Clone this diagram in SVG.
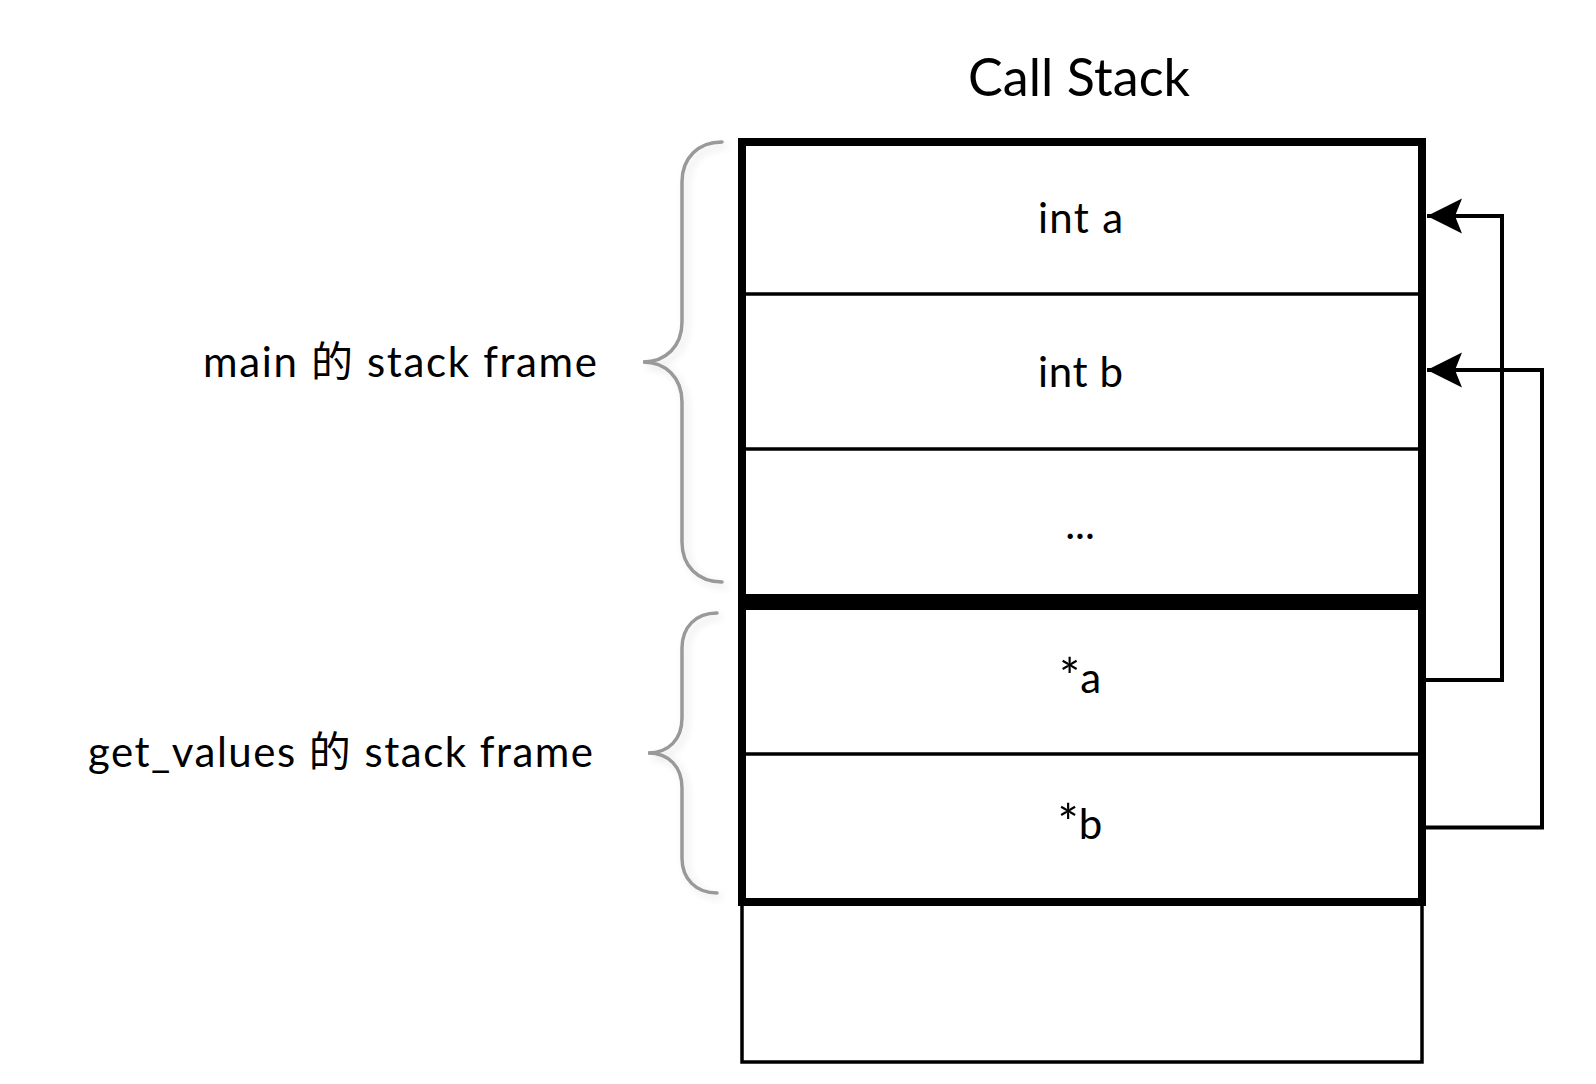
<svg xmlns="http://www.w3.org/2000/svg" width="1596" height="1084" viewBox="0 0 1596 1084">
<style>
.txt{font-family:Lato,"Noto Sans CJK SC",sans-serif;fill:#000;}
.cell{font-size:42px;text-anchor:middle;}
.lbl{font-size:42px;}
.ast{font-size:50px;}
.frame{fill:none;stroke:#000;stroke-width:8;}
.div{stroke:#000;stroke-width:3.5;}
.brace{fill:none;stroke:#999;stroke-width:3.5;stroke-linecap:round;}
.conn{fill:none;stroke:#000;stroke-width:4;}
</style>
<defs>
<marker id="arrow" markerUnits="userSpaceOnUse" markerWidth="40" markerHeight="40" viewBox="-37 -20 40 40" refX="0" refY="0" orient="auto">
<path d="M0,0 L-35,-17.5 L-28,0 L-35,17.5 Z" fill="#000"/>
</marker>
<filter id="shadow" x="-50%" y="-10%" width="200%" height="120%">
<feGaussianBlur in="SourceAlpha" stdDeviation="4"/>
<feOffset dx="4" dy="4" result="b"/>
<feComponentTransfer><feFuncA type="linear" slope="0.12"/></feComponentTransfer>
<feMerge><feMergeNode/><feMergeNode in="SourceGraphic"/></feMerge>
</filter>
</defs>
<rect width="1596" height="1084" fill="#fff"/>

<g id="title">
<text class="txt" x="1079" y="96" font-size="52" text-anchor="middle" textLength="222" lengthAdjust="spacing">Call Stack</text>
</g>

<g id="bottom-box">
<rect x="742" y="902" width="680" height="160" fill="#fff" stroke="#000" stroke-width="3.5"/>
</g>

<g id="main-frame">
<rect x="742" y="142" width="680" height="456" fill="#fff"/>
<line class="div" x1="742" y1="294" x2="1422" y2="294"/>
<line class="div" x1="742" y1="449" x2="1422" y2="449"/>
<rect class="frame" x="742" y="142" width="680" height="456"/>
</g>
<g id="cell-int-a"><text class="txt cell" x="1080.5" y="233" textLength="85" lengthAdjust="spacing">int a</text></g>
<g id="cell-int-b"><text class="txt cell" x="1080.5" y="387" textLength="85" lengthAdjust="spacing">int b</text></g>
<g id="cell-dots"><text class="txt cell" x="1080" y="539">...</text></g>

<g id="get-values-frame">
<rect x="742" y="606" width="680" height="296" fill="#fff"/>
<line class="div" x1="742" y1="754" x2="1422" y2="754"/>
<rect class="frame" x="742" y="606" width="680" height="296"/>
</g>
<g id="cell-ptr-a"><text class="txt cell" x="1080" y="693"><tspan class="ast" dy="2">*</tspan><tspan dy="-2">a</tspan></text></g>
<g id="cell-ptr-b"><text class="txt cell" x="1080" y="839"><tspan class="ast" dy="2">*</tspan><tspan dy="-2">b</tspan></text></g>

<g id="brace-main">
<path class="brace" filter="url(#shadow)" d="M722,142 C698,142 682,158 682,182 L682,322 C682,346 666,362 643,362 C666,362 682,378 682,402 L682,542 C682,566 698,582 722,582"/>
</g>
<g id="label-main">
<text class="txt lbl" x="203" y="377" textLength="394" lengthAdjust="spacing">main 的 stack frame</text>
</g>

<g id="brace-get-values">
<path class="brace" filter="url(#shadow)" d="M717,613 C696,613 682,627 682,648 L682,718 C682,739 669,753 648,753 C669,753 682,767 682,788 L682,858 C682,879 696,893 717,893"/>
</g>
<g id="label-get-values">
<text class="txt lbl" x="88" y="767" textLength="505" lengthAdjust="spacing">get_values 的 stack frame</text>
</g>

<g id="connectors">
<path class="conn" d="M1426,680 L1502,680 L1502,216 L1427,216" marker-end="url(#arrow)"/>
<path class="conn" d="M1426,827.5 L1542,827.5 L1542,370 L1427,370" marker-end="url(#arrow)"/>
</g>
</svg>
